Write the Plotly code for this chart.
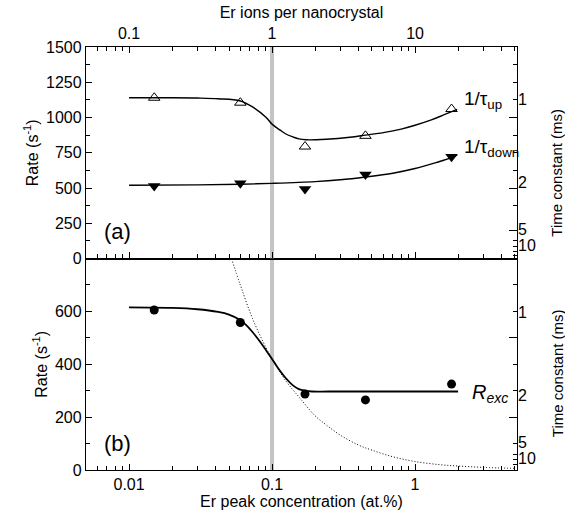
import plotly.graph_objects as go

# ---------------- data ----------------
conc = [0.015, 0.06, 0.17, 0.45, 1.8]          # Er peak concentration (at.%)
rate_up = [1140, 1105, 794, 870, 1060]           # 1/tau_up (s^-1)
rate_down = [515, 533, 493, 595, 722]            # 1/tau_down (s^-1)
r_exc = [605, 558, 287, 265, 325]                # R_exc (s^-1)

fit_up_x = [0.01, 0.02, 0.03, 0.042, 0.06, 0.073, 0.091, 0.1, 0.114, 0.125, 0.14, 0.154,
            0.173, 0.24, 0.35, 0.45, 0.6, 0.8, 1.0, 1.3, 1.6, 1.97]
fit_up_y = [1140, 1140, 1138, 1133, 1117, 1075, 1000, 953, 910, 883, 862, 848,
            842, 846, 860, 875, 893, 918, 945, 983, 1020, 1058]

fit_down_x = [0.01, 0.03, 0.06, 0.1, 0.2, 0.3, 0.45, 0.7, 1.0, 1.4, 1.8, 1.97]
fit_down_y = [519, 522, 527, 533, 545, 558, 578, 605, 638, 680, 715, 735]

fit_exc_x = [0.01, 0.02, 0.03, 0.042, 0.05, 0.059, 0.066, 0.073, 0.082, 0.091, 0.1, 0.11,
             0.125, 0.14, 0.154, 0.17, 0.19, 0.25, 0.5, 1.0, 2.0]
fit_exc_y = [615, 613, 608, 598, 588, 569, 548, 522, 487, 452, 420, 386,
             347, 320, 306, 300, 297, 297, 297, 297, 297]

dot_x = [0.052, 0.06, 0.073, 0.091, 0.1, 0.125, 0.155, 0.2, 0.24, 0.3, 0.4, 0.5, 0.7,
         1.0, 1.5, 2.0, 3.0, 5.0]
dot_y = [800, 700, 573, 461, 420, 337, 275, 205, 170, 132, 95, 75, 50,
         32, 20, 15, 10, 6]

marker_conc = [0.1]                                  # grey vertical marker
x_tickvals = [0.01, 0.1, 1]
x_ticktext_bottom = ["0.01", "0.1", "1"]
x_ticktext_top = ["0.1", "1", "10"]
x_minor = [0.005, 0.006, 0.007, 0.008, 0.009,
           0.02, 0.03, 0.04, 0.05, 0.06, 0.07, 0.08, 0.09,
           0.2, 0.3, 0.4, 0.5, 0.6, 0.7, 0.8, 0.9, 2, 3, 4, 5]

y_top_ticks = [0, 250, 500, 750, 1000, 1250, 1500]
y_bot_ticks = [0, 200, 400, 600]

tau_labels = ["1", "2", "5", "10"]
tau_label_pos_top = [1130, 540, 203, 91]
tau_major_top = [1000, 500, 200]
tau_minor_top = [1375, 1250, 1125, 875, 750, 625, 375, 125, 84, 49, 21]
tau_label_pos_bot = [598, 284, 105, 45]
tau_major_bot = [500, 200]
tau_minor_bot = [700, 600, 400, 300, 100, 60, 41, 22]

FONT = "Arial, Liberation Sans, sans-serif"
BLACK = "black"

fig = go.Figure()

# grey vertical markers
fig.add_trace(go.Scatter(x=marker_conc * 2, y=[0, 1500], mode="lines",
                         line=dict(color="#c4c4c4", width=4), xaxis="x2", yaxis="y",
                         showlegend=False, hoverinfo="skip"))
fig.add_trace(go.Scatter(x=marker_conc * 2, y=[0, 800], mode="lines",
                         line=dict(color="#c4c4c4", width=4), xaxis="x", yaxis="y2",
                         showlegend=False, hoverinfo="skip"))

# top panel
fig.add_trace(go.Scatter(x=fit_up_x, y=fit_up_y, mode="lines", line=dict(color=BLACK, width=1.4, shape="spline"),
                         xaxis="x2", yaxis="y", showlegend=False))
fig.add_trace(go.Scatter(x=fit_down_x, y=fit_down_y, mode="lines", line=dict(color=BLACK, width=1.4, shape="spline"),
                         xaxis="x2", yaxis="y", showlegend=False))
fig.add_trace(go.Scatter(x=conc, y=rate_up, mode="markers",
                         marker=dict(symbol="triangle-up-open", size=10, color=BLACK, line=dict(width=1)),
                         xaxis="x2", yaxis="y", showlegend=False))
fig.add_trace(go.Scatter(x=conc, y=rate_down, mode="markers",
                         marker=dict(symbol="triangle-down", size=11, color=BLACK),
                         xaxis="x2", yaxis="y", showlegend=False))

# bottom panel
fig.add_trace(go.Scatter(x=dot_x, y=dot_y, mode="lines",
                         line=dict(color=BLACK, width=1, dash="1px,2px", shape="spline"),
                         xaxis="x", yaxis="y2", showlegend=False))
fig.add_trace(go.Scatter(x=fit_exc_x, y=fit_exc_y, mode="lines", line=dict(color=BLACK, width=1.8, shape="spline"),
                         xaxis="x", yaxis="y2", showlegend=False))
fig.add_trace(go.Scatter(x=conc, y=r_exc, mode="markers",
                         marker=dict(symbol="circle", size=9, color=BLACK),
                         xaxis="x", yaxis="y2", showlegend=False))

# empty traces to instantiate the overlay axes
for xa, ya in [("x2", "y3"), ("x2", "y5"), ("x", "y4"), ("x", "y6")]:
    fig.add_trace(go.Scatter(x=[], y=[], xaxis=xa, yaxis=ya, showlegend=False))

axis_common = dict(showgrid=False, zeroline=False, showline=True, linecolor=BLACK, linewidth=1.3,
                   ticks="inside", ticklen=6, tickwidth=1, tickcolor=BLACK,
                   tickfont=dict(family=FONT, size=16, color=BLACK))
right_common = {**axis_common, "ticklen": 8}
minor_in = dict(ticks="inside", ticklen=4, tickcolor=BLACK, tickwidth=1)

xr = [-2.301, 0.713]
fig.update_layout(
    width=565, height=519,
    margin=dict(l=86, r=48, t=42, b=49),
    paper_bgcolor="white", plot_bgcolor="white",
    font=dict(family=FONT, size=16, color=BLACK),
    xaxis=dict(**axis_common, domain=[0, 1], anchor="y2", type="log", range=xr,
               tickmode="array", tickvals=x_tickvals, ticktext=x_ticktext_bottom, mirror=True,
               minor=dict(tickmode="array", tickvals=x_minor, **minor_in),
               title=dict(text="Er peak concentration (at.%)", font=dict(family=FONT, size=16), standoff=2)),
    xaxis2=dict(**axis_common, domain=[0, 1], anchor="y", type="log", range=xr, side="top",
                matches="x",
                tickmode="array", tickvals=x_tickvals, ticktext=x_ticktext_top, mirror="ticks",
                minor=dict(tickmode="array", tickvals=x_minor, **minor_in),
                title=dict(text="Er ions per nanocrystal", font=dict(family=FONT, size=16), standoff=2)),
    yaxis=dict(**axis_common, domain=[0.5, 1], anchor="x2", range=[0, 1500],
               tickmode="array", tickvals=y_top_ticks,
               minor=dict(tickmode="linear", tick0=0, dtick=125, **minor_in),
               title=dict(text="Rate (s<sup>-1</sup>)", font=dict(family=FONT, size=16), standoff=3)),
    yaxis2=dict(**axis_common, domain=[0, 0.5], anchor="x", range=[0, 800],
                tickmode="array", tickvals=y_bot_ticks,
                minor=dict(tickmode="linear", tick0=0, dtick=100, **minor_in),
                title=dict(text="Rate (s<sup>-1</sup>)", font=dict(family=FONT, size=16), standoff=3)),
    yaxis3=dict(**right_common, overlaying="y", anchor="x2", side="right", range=[0, 1500],
                tickmode="array", tickvals=tau_major_top, showticklabels=False,
                minor=dict(tickmode="array", tickvals=tau_minor_top, **minor_in)),
    yaxis5=dict(overlaying="y", anchor="x2", side="right", range=[0, 1500], showgrid=False, zeroline=False,
                showline=False, ticks="", tickmode="array", tickvals=tau_label_pos_top, ticktext=tau_labels,
                tickfont=dict(family=FONT, size=16, color=BLACK)),
    yaxis4=dict(**right_common, overlaying="y2", anchor="x", side="right", range=[0, 800],
                tickmode="array", tickvals=tau_major_bot, showticklabels=False,
                minor=dict(tickmode="array", tickvals=tau_minor_bot, **minor_in)),
    yaxis6=dict(overlaying="y2", anchor="x", side="right", range=[0, 800], showgrid=False, zeroline=False,
                showline=False, ticks="", tickmode="array", tickvals=tau_label_pos_bot, ticktext=tau_labels,
                tickfont=dict(family=FONT, size=16, color=BLACK)),
)

ann = [
    dict(text="(a)", x=0.037, y=0.563, xanchor="left", yanchor="middle", font=dict(size=22)),
    dict(text="(b)", x=0.037, y=0.063, xanchor="left", yanchor="middle", font=dict(size=22)),
    dict(text="1/τ<sub>up</sub>", x=0.872, y=0.874, xanchor="left", yanchor="middle", font=dict(size=19)),
    dict(text="1/τ<sub>down</sub>", x=0.872, y=0.762, xanchor="left", yanchor="middle", font=dict(size=19)),
    dict(text="<i>R</i><sub><i>exc</i></sub>", x=0.891, y=0.18, xanchor="left", yanchor="middle", font=dict(size=20)),
    dict(text="Time constant (ms)", x=1.093, y=0.703, textangle=-90, xanchor="center", yanchor="middle",
         font=dict(size=15)),
    dict(text="Time constant (ms)", x=1.093, y=0.229, textangle=-90, xanchor="center", yanchor="middle",
         font=dict(size=15)),
]
for a in ann:
    a.update(xref="paper", yref="paper", showarrow=False)
    a["font"] = dict(family=FONT, color=BLACK, **a["font"])
fig.update_layout(annotations=ann)

fig.write_html("out.html")
